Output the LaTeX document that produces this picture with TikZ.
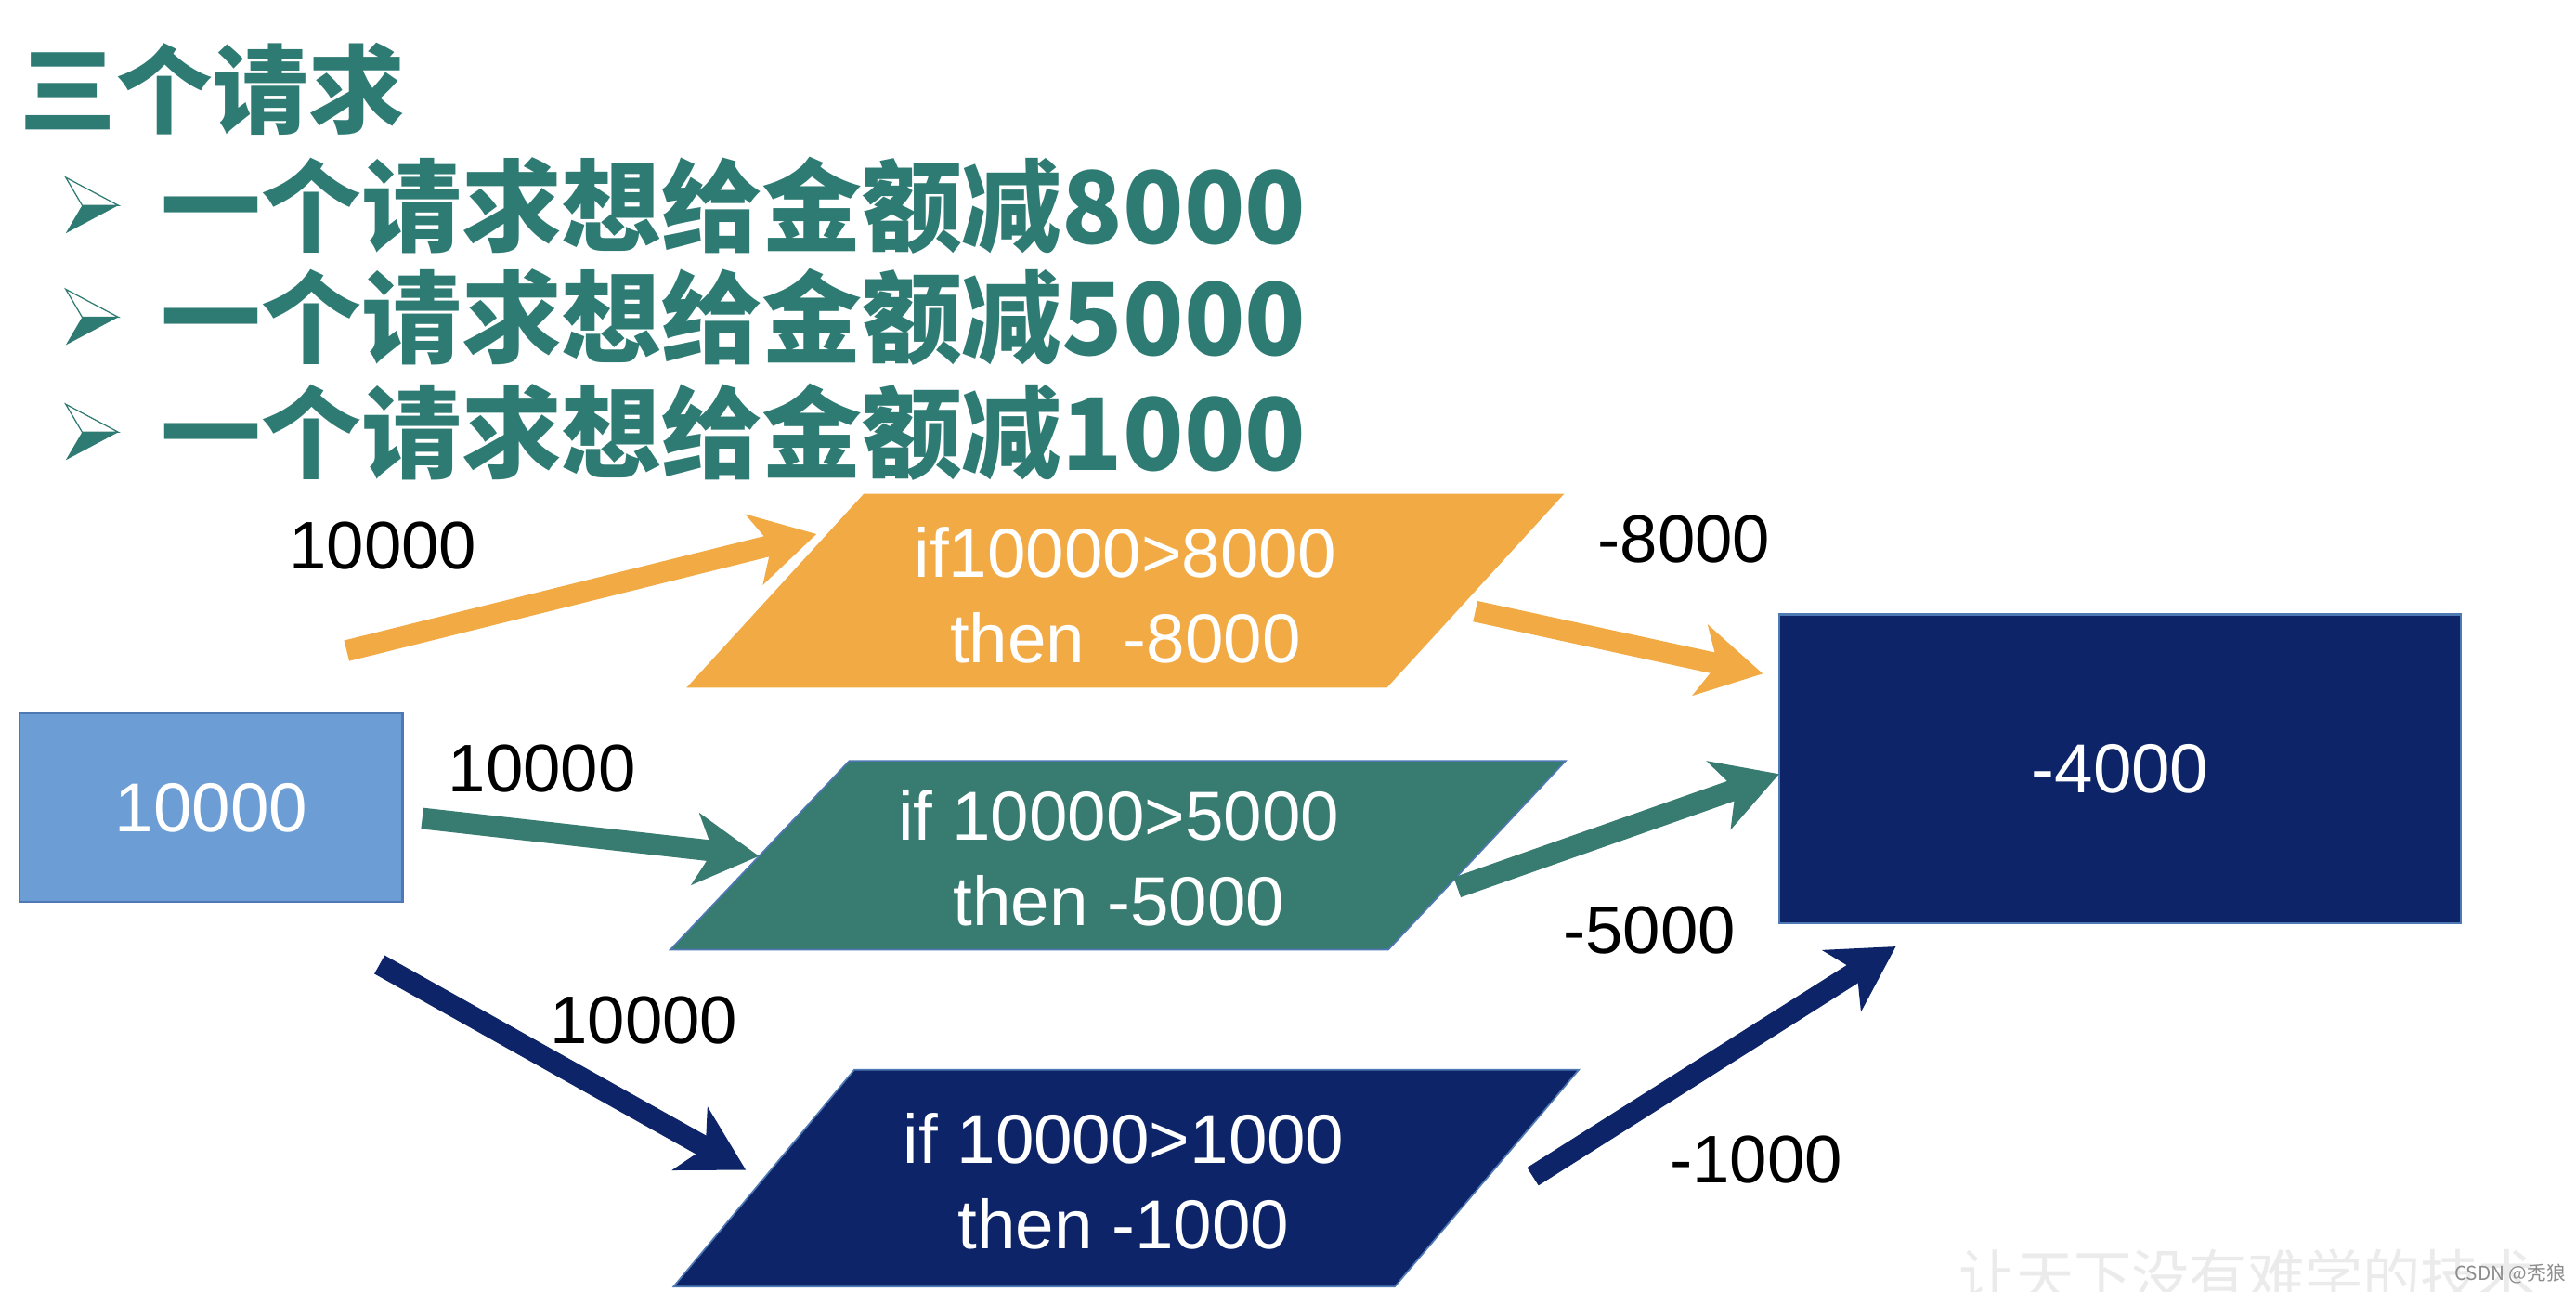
\documentclass[tikz,border=0pt]{standalone}
\usepackage{fontspec}
\setmainfont{Liberation Sans}
\newfontfamily\cjk{Noto Sans CJK SC}
\newfontfamily\cjkbold{Noto Sans CJK SC Black}
\usetikzlibrary{arrows.meta}
\definecolor{titleteal}{HTML}{2E7B73}
\definecolor{orng}{HTML}{F2AA44}
\definecolor{tealbox}{HTML}{387B70}
\definecolor{navy}{HTML}{0D2568}
\definecolor{lightblue}{HTML}{6C9DD5}
\definecolor{edgeblue}{HTML}{4F79B5}
\begin{document}
\begin{tikzpicture}[x=0.3mm,y=-0.3mm,
  arr/.style={line width=11pt,-{Stealth[length=33pt,width=37pt,inset=9pt]}},
  lbl/.style={font=\fontsize{35}{42}\selectfont,text=black,inner sep=0pt},
  intext/.style={font=\fontsize{36}{44.4}\selectfont,text=white,align=center,inner sep=0pt},
  heading/.style={font=\cjkbold\fontsize{50}{50}\selectfont,text=titleteal,anchor=west,inner sep=0pt},
  bulletline/.style={font=\cjkbold\fontsize{52}{52}\selectfont,text=titleteal,anchor=west,inner sep=0pt},
  para/.style={draw=edgeblue,line width=0.8pt}
]
\useasboundingbox (0,0) rectangle (1568,786);
\fill[white] (0,0) rectangle (1568,786);

% heading and bullets
\node[heading] (title) at (12,54) {三个请求};
\foreach \yy/\amt [count=\i] in {125/8000,193/5000,263/1000}{
  \fill[titleteal] (50,\yy) -- (72,\yy) -- (40,\yy+17) -- cycle;
  \draw[titleteal,line width=0.6pt,fill=white] (40,\yy-17) -- (72,\yy) -- (50,\yy) -- cycle;
  \node[bulletline] (b\i) at (98,\yy) {一个请求想给金额减\amt};
}

% boxes
\node[draw=edgeblue,line width=1.2pt,fill=lightblue,minimum width=233*0.3mm,minimum height=115*0.3mm,
      font=\fontsize{36}{40}\selectfont,text=white] (src) at (128.5,491.5) {10000};
\node[draw=edgeblue,line width=1.2pt,fill=navy,minimum width=415*0.3mm,minimum height=188*0.3mm,
      font=\fontsize{36}{40}\selectfont,text=white] (res) at (1290.5,468) {-4000};

% parallelograms
\path[para,fill=orng,draw=orng] (526,301) -- (951,301) -- (844,418) -- (419,418) -- cycle;
\path[para,fill=tealbox] (517,463) -- (953,463) -- (845,578) -- (408,578) -- cycle;
\path[para,fill=navy] (520,651) -- (961,651) -- (849,783) -- (410,783) -- cycle;
\node[intext] (p1) at (685,362) {if10000>8000\\then\ \ -8000};
\node[intext] (p2) at (681,522) {if 10000>5000\\then -5000};
\node[intext] (p3) at (684,719) {if 10000>1000\\then -1000};

% arrow end points
\coordinate (o1s) at (211,396); \coordinate (o1e) at (497,325);
\coordinate (t1s) at (257,498); \coordinate (t1e) at (462,521);
\coordinate (n1s) at (231,587); \coordinate (n1e) at (454,712);
\coordinate (o2s) at (898,372); \coordinate (o2e) at (1073,410);
\coordinate (t2s) at (887,540); \coordinate (t2e) at (1083,471);
\coordinate (n2s) at (933,716); \coordinate (n2e) at (1154,576);

\draw[arr,orng] (o1s) -- (o1e);
\draw[arr,tealbox] (t1s) -- (t1e);
\draw[arr,navy] (n1s) -- (n1e);
\draw[arr,orng] (o2s) -- (o2e);
\draw[arr,tealbox] (t2s) -- (t2e);
\draw[arr,navy] (n2s) -- (n2e);

% labels
\node[lbl] (l1) at (233,332) {10000};
\node[lbl] (l2) at (330,468) {10000};
\node[lbl] (l3) at (392,621) {10000};
\node[lbl] (l4) at (1025,328) {-8000};
\node[lbl] (l5) at (1004,566) {-5000};
\node[lbl] (l6) at (1069,706) {-1000};

% watermark
\node[anchor=north west,inner sep=0pt,text=black!8,font=\cjk\fontsize{30}{30}\selectfont] (wm) at (1192,760) {让天下没有难学的技术};
\node[anchor=east,inner sep=0pt,text=black!45,font=\cjk\fontsize{10}{10}\selectfont] (csdn) at (1562,775) {CSDN @秃狼};
\end{tikzpicture}
\end{document}
